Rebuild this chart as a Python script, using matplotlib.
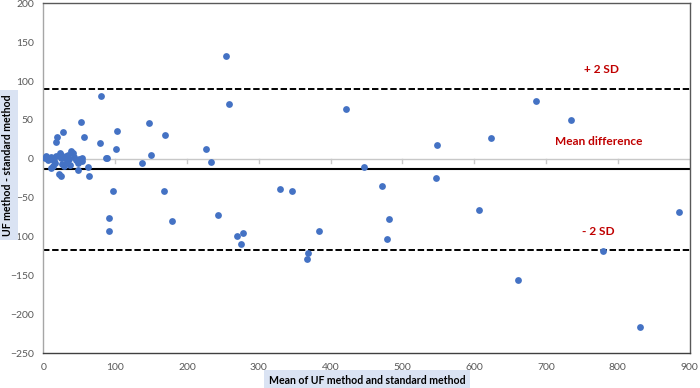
import matplotlib
matplotlib.use("Agg")
import matplotlib.pyplot as plt
import numpy as np

# Bland-Altman data: mean of methods (x) and difference (y)
mean_vals = [254.6, 258, 147.6, 169.3, 150, 226.5, 234, 167.4, 329, 346.6,
             421, 447, 471.8, 548.5, 547, 686.6, 735.5, 622.8, 482, 478.3,
             607, 886, 779.8, 661.2, 831.6, 383.5, 368.3, 366.5, 270, 277.8,
             275.5, 243.2, 179, 137.9, 97.2, 91.2, 91.2, 88.4, 62, 63,
             52.4, 26.6, 56, 79, 102, 100.5, 19, 18, 38.5, 41,
             45, 53, 53, 11, 13, 21, 25, 29, 47.8, 36.7,
             87.6, 24, 23, 25, 80, 2, 5, 8, 4, 10,
             15, 17, 30, 33, 34, 43, 48, 16, 12, 7, 26, 35, 31, 50]
diff_vals = [132.7, 70.9, 45.5, 30.5, 4.7, 12.9, -4.3, -41.2, -39, -41.2,
             63.6, -10.5, -34.5, 18, -24.5, 74.3, 50.3, 26.2, -77.3, -102.7,
             -66.2, -68.3, -119, -156.4, -216, -93.6, -121.5, -128.5, -100, -95,
             -109.5, -73, -80.7, -5.6, -41.6, -76, -92.8, 0.9, -10.7, -21.9,
             47.2, 34, 27.5, 20.6, 36, 12.5, 28, 21, 10, 8,
             -2, 0.5, -3, -12.4, -9, -20, -22, -10, -14.5, -8,
             0.5, 4.8, 7, 1.3, 81, 0.5, 1.5, -1, 3, 2,
             -3, 4, 1, -4, 5, 2, -6, -6, 0, -2, -7, -1, 3, 0]

mean_difference = -13.5
upper_loa = 90
lower_loa = -117

x_ticks = list(range(0, 901, 100))
y_ticks = list(range(-250, 201, 50))

fig = plt.figure(figsize=(7, 3.88), dpi=100)
right_px = 689.5
ax = fig.add_axes([0.0621, 0.0902, right_px / 700 - 0.0621, 0.9915 - 0.0902])

ax.set_xlim(0, 900)
ax.set_ylim(-250, 200)

# zero axis line with tick marks
ax.axhline(0, color="#c8c8c8", lw=1.0, zorder=1)
for xt in x_ticks[1:]:
    ax.plot([xt, xt], [0, -5], color="#c8c8c8", lw=1.0, zorder=1)

ax.axhline(mean_difference, color="black", lw=1.5, zorder=2)
ax.axhline(upper_loa, color="black", lw=1.4, ls=(0, (3.3, 1.4)), zorder=2)
ax.axhline(lower_loa, color="black", lw=1.4, ls=(0, (3.3, 1.4)), zorder=2)

ax.plot(mean_vals, diff_vals, "o", color="#4472C4", markersize=4.9,
        markeredgewidth=0, zorder=3)

ax.set_xticks(x_ticks)
ax.set_yticks(y_ticks)
ax.tick_params(axis="both", length=0, labelsize=7.5, colors="#595959")
ax.tick_params(axis="x", pad=7)
ax.tick_params(axis="y", pad=7)
for lab in ax.get_xticklabels() + ax.get_yticklabels():
    lab.set_fontfamily("Lato")

ax.spines["left"].set_color("#a6a6a6")
ax.spines["bottom"].set_color("#404040")
ax.spines["top"].set_color("#595959")
ax.spines["right"].set_color("#595959")
for s in ax.spines.values():
    s.set_linewidth(1.0)

red = "#C00000"
ax.text(602 / 700, 1 - 69.3 / 388, "+ 2 SD", transform=fig.transFigure,
        ha="center", va="center", color=red, fontsize=8.6,
        fontweight="bold", family="Lato")
ax.text(599 / 700, 1 - 141.7 / 388, "Mean difference", transform=fig.transFigure,
        ha="center", va="center", color=red, fontsize=8.6,
        fontweight="bold", family="Lato")
ax.text(598 / 700, 1 - 231.7 / 388, "- 2 SD", transform=fig.transFigure,
        ha="center", va="center", color=red, fontsize=8.6,
        fontweight="bold", family="Lato")

fig.text(367 / 700, 1 - 380 / 388, "Mean of UF method and standard method",
         ha="center", va="center", fontsize=7.6, fontweight="bold",
         family="Lato", color="black",
         bbox=dict(boxstyle="square,pad=0.4", fc="#dae3f3", ec="none"))
fig.text(8 / 700, 1 - 165 / 388, "UF method - standard method",
         ha="center", va="center", rotation=90, fontsize=7.6,
         fontweight="bold", family="Lato", color="black",
         bbox=dict(boxstyle="square,pad=0.4", fc="#dae3f3", ec="none"))

fig.savefig("out.png", dpi=100)
